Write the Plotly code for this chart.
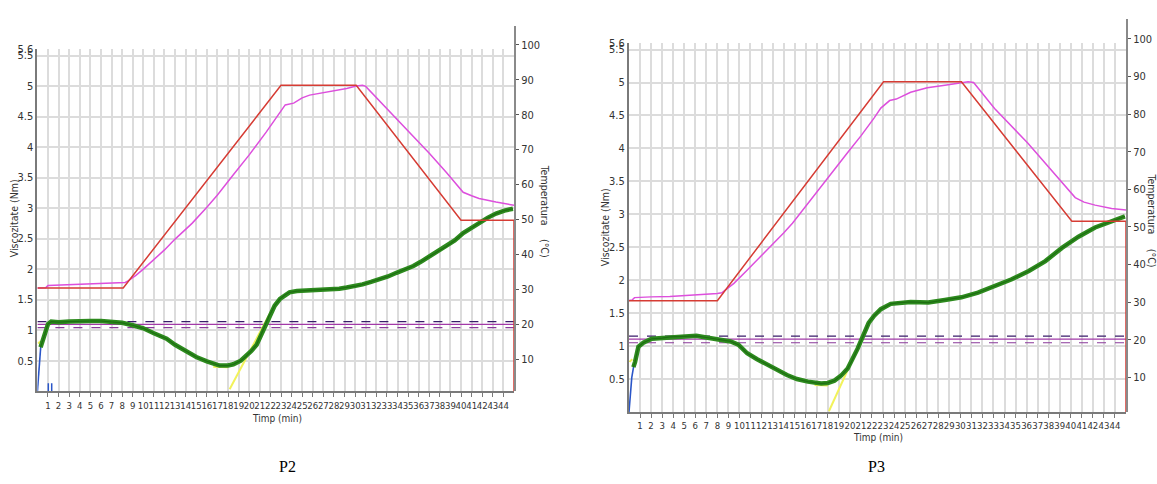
import plotly.graph_objects as go

W, H = 1157, 484

# ---------------- data ----------------
minute_ticks = list(range(1, 45))
visc_ticks = [0.5, 1, 1.5, 2, 2.5, 3, 3.5, 4, 4.5, 5, 5.5, 5.6]
visc_tick_text = ["0.5", "1", "1.5", "2", "2.5", "3", "3.5", "4", "4.5", "5", "5.5", "5.6"]
temp_ticks = [10, 20, 30, 40, 50, 60, 70, 80, 90, 100]

# ---- P2 ----
p2_visc_t = [0.3, 0.5, 0.8, 1.0, 1.3, 2, 3, 4, 5, 6, 7, 8, 9, 10, 11, 12.2, 13, 14.1, 15, 16, 17.2,
             18, 18.5, 19.2, 19.7, 20.2, 20.7, 21.0, 21.3, 21.6, 21.9, 22.4, 22.9, 23.4, 23.8, 24.5,
             25.5, 26.5, 27.6, 28.5, 29.2, 30, 30.7, 31.5, 32.3, 33.1, 33.9, 34.7, 35.5, 36.2, 37,
             37.8, 38.6, 39.4, 40.2, 41, 41.8, 42.5, 43.3, 44.1, 44.9]
p2_visc_v = [0.72, 0.82, 1.0, 1.1, 1.14, 1.13, 1.14, 1.15, 1.15, 1.15, 1.13, 1.12, 1.08, 1.03, 0.95,
             0.86, 0.76, 0.65, 0.56, 0.49, 0.42, 0.42, 0.44, 0.5, 0.57, 0.66, 0.76, 0.88, 1.0, 1.12,
             1.24, 1.4, 1.51, 1.58, 1.62, 1.64, 1.65, 1.65, 1.66, 1.68, 1.70, 1.72, 1.75, 1.79, 1.83,
             1.88, 1.94, 1.99, 2.05, 2.12, 2.21, 2.29, 2.37, 2.47, 2.59, 2.68, 2.76, 2.84, 2.91, 2.96,
             2.99]
p2_start_t = [0, 0.15, 0.32]
p2_start_v = [0, 0.38, 0.74]
p2_spike_t = [1.03, 1.03, None, 1.35, 1.35]
p2_spike_v = [0, 0.13, None, 0, 0.13]
p2_tangent_t = [18.15, 22.5]
p2_tangent_v = [0.03, 1.45]
p2_fitmin_t = [16.6, 18.0]
p2_fitmin_v = [0.40, 0.39]
p2_fitstart_t = [0.05, 0.3]
p2_fitstart_v = [0.78, 0.82]
p2_ref_levels = [1.14, 1.095, 1.04]
p2_set_t = [0, 8.1, 23.0, 30.1, 40.0, 45, 45]
p2_set_v = [30.4, 30.4, 88.4, 88.4, 49.8, 49.8, 0]
p2_temp_t = [0, 0.8, 1.0, 2, 4, 6, 8.3, 8.6, 9.3, 10, 11, 12, 13, 13.6, 14.6, 16, 17, 18.5, 20, 21.6,
             22.9, 23.4, 24.2, 25, 25.7, 26.5, 27.6, 28.5, 29.2, 30.1, 30.7, 31.0, 33, 35.5, 37, 38.6,
             39.6, 40.2, 41, 41.7, 43.3, 45]
p2_temp_v = [30.4, 30.5, 31.1, 31.2, 31.4, 31.7, 32.0, 32.5, 34, 35.8, 38.5, 41.3, 44.4, 46.1, 48.9,
             53.5, 57, 62.8, 68.5, 75.0, 80.8, 82.8, 83.3, 84.8, 85.6, 86.0, 86.5, 87.0, 87.5, 88.2,
             88.4, 88.1, 81.8, 74, 69, 63.5, 59.8, 57.8, 56.8, 56, 55, 54.1]

# ---- P3 ----
p3_visc_t = [0.4, 0.55, 0.85, 1.3, 2.06, 3, 3.7, 5.2, 6.1, 7, 7.7, 8.5, 9.2, 9.9, 10.7, 11.6, 12.5,
             13.4, 14.3, 15.2, 16.2, 17.4, 18.0, 18.6, 19.2, 19.8, 20.2, 20.7, 21.0, 21.3, 21.7, 22.2,
             22.8, 23.7, 24.5, 25.5, 26.3, 27.1, 28.6, 30.1, 31.6, 33.1, 34.6, 36.2, 37.7, 39.2, 40.7,
             42.2, 43.7, 44.9]
p3_visc_v = [0.68, 0.76, 0.99, 1.05, 1.11, 1.12, 1.14, 1.155, 1.155, 1.13, 1.11, 1.09, 1.07, 1.02,
             0.89, 0.8, 0.72, 0.64, 0.56, 0.5, 0.46, 0.43, 0.44, 0.475, 0.55, 0.66, 0.78, 0.96, 1.08,
             1.21, 1.35, 1.46, 1.56, 1.64, 1.66, 1.67, 1.665, 1.66, 1.70, 1.74, 1.81, 1.91, 2.01, 2.14,
             2.29, 2.49, 2.66, 2.80, 2.90, 2.97]
p3_start_t = [0, 0.12, 0.25, 0.45]
p3_start_v = [0, 0.3, 0.52, 0.72]
p3_tangent_t = [18.1, 20.6]
p3_tangent_v = [0.01, 0.93]
p3_fitmin_t = [16.8, 18.0]
p3_fitmin_v = [0.41, 0.40]
p3_fitstart_t = [0.05, 0.3]
p3_fitstart_v = [0.76, 0.80]
p3_ref_levels = [1.15, 1.105, 1.05]
p3_set_t = [0, 8.0, 23.05, 30.1, 40.1, 45, 45]
p3_set_v = [30.4, 30.4, 88.6, 88.6, 51.5, 51.5, 0]
p3_temp_t = [0, 0.3, 0.5, 1, 2, 3.7, 6.1, 8.0, 8.4, 9.5, 10.6, 12, 13, 14, 14.8, 16.7, 18, 19.8, 21,
             22.2, 22.8, 23.6, 24.2, 25.5, 27, 28.6, 30.1, 30.7, 31.2, 33.1, 36.1, 39.2, 40.4, 41.2,
             42.2, 43.7, 45]
p3_temp_v = [30.4, 30.6, 31.2, 31.3, 31.4, 31.5, 31.9, 32.3, 32.5, 35, 38.2, 42.3, 45.3, 48.4, 51,
             58.3, 63, 69.8, 74.2, 79, 81.6, 83.6, 84, 85.8, 87, 87.7, 88.2, 88.6, 88.4, 81.5, 72.3,
             61.8, 57.8, 56.6, 55.8, 54.9, 54.5]

# ---------------- styling / layout ----------------
GREEN = "#2d8a1e"
RED = "#d63c34"
MAGENTA = "#dd4fdd"
YELLOW = "#f2f25a"
BLUE = "#2a56c8"
GRID = "#dcdcdc"
AX = "#7a7a7a"
FONT = "Liberation Sans Narrow, DejaVu Sans Condensed, Liberation Sans, Arial"


def pxx(p):
    return p / W


def pxy(p):
    return (H - p) / H


fig = go.Figure()

panels = [
    dict(ax=("x", "y"), tax=("x2", "y2"), vt=p2_visc_t, vv=p2_visc_v, st=p2_start_t, sv=p2_start_v,
         tt=p2_tangent_t, tv=p2_tangent_v, mt=p2_fitmin_t, mv=p2_fitmin_v, ft=p2_fitstart_t,
         fv=p2_fitstart_v, refs=p2_ref_levels, set_t=p2_set_t, set_v=p2_set_v, temp_t=p2_temp_t,
         temp_v=p2_temp_v),
    dict(ax=("x3", "y3"), tax=("x4", "y4"), vt=p3_visc_t, vv=p3_visc_v, st=p3_start_t, sv=p3_start_v,
         tt=p3_tangent_t, tv=p3_tangent_v, mt=p3_fitmin_t, mv=p3_fitmin_v, ft=p3_fitstart_t,
         fv=p3_fitstart_v, refs=p3_ref_levels, set_t=p3_set_t, set_v=p3_set_v, temp_t=p3_temp_t,
         temp_v=p3_temp_v),
]

for i, p in enumerate(panels):
    xa, ya = p["ax"]
    txa, tya = p["tax"]
    ref_styles = [("#3a1c6a", "dash", 1.2), ("#a23aa8", "solid", 1.2), ("#8a3a9a", "dash", 1.2)]
    for lvl, (c, d, w) in zip(p["refs"], ref_styles):
        fig.add_trace(go.Scatter(x=[0, 45], y=[lvl, lvl], mode="lines", xaxis=xa, yaxis=ya,
                                 line=dict(color=c, dash=d, width=w), showlegend=False))
    for t, v in [(p["tt"], p["tv"]), (p["mt"], p["mv"]), (p["ft"], p["fv"])]:
        fig.add_trace(go.Scatter(x=t, y=v, mode="lines", xaxis=xa, yaxis=ya,
                                 line=dict(color=YELLOW, width=2), showlegend=False))
    fig.add_trace(go.Scatter(x=p["st"], y=p["sv"], mode="lines", xaxis=xa, yaxis=ya,
                             line=dict(color=BLUE, width=1.6), showlegend=False))
    if i == 0:
        fig.add_trace(go.Scatter(x=p2_spike_t, y=p2_spike_v, mode="lines", xaxis=xa, yaxis=ya,
                                 line=dict(color=BLUE, width=1.5), showlegend=False,
                                 connectgaps=False))
    fig.add_trace(go.Scatter(x=p["vt"], y=p["vv"], mode="lines", xaxis=xa, yaxis=ya,
                             line=dict(color=GREEN, width=4.5), showlegend=False))
    fig.add_trace(go.Scatter(x=p["vt"], y=p["vv"], mode="lines", xaxis=xa, yaxis=ya,
                             line=dict(color="#1e6e12", width=1.2), showlegend=False))
    fig.add_trace(go.Scatter(x=p["temp_t"], y=p["temp_v"], mode="lines", xaxis=txa, yaxis=tya,
                             line=dict(color=MAGENTA, width=1.5), showlegend=False))
    fig.add_trace(go.Scatter(x=p["set_t"], y=p["set_v"], mode="lines", xaxis=txa, yaxis=tya,
                             line=dict(color=RED, width=1.5), showlegend=False))

geo = [
    dict(l=37.4, r=514.0, b=390.0, t=44.0, ttop=20.0, t_per=3.538, t0=393.1),
    dict(l=629.0, r=1126.0, b=411.0, t=37.5, ttop=13.3, t_per=3.808, t0=414.1),
]

layout = dict(width=W, height=H, margin=dict(l=0, r=0, t=0, b=0), autosize=False,
              paper_bgcolor="white", plot_bgcolor="rgba(0,0,0,0)", showlegend=False,
              font=dict(family=FONT, color="#333333", size=10))

names = [("xaxis", "yaxis", "xaxis2", "yaxis2", "x", "y", "x2", "y2"),
         ("xaxis3", "yaxis3", "xaxis4", "yaxis4", "x3", "y3", "x4", "y4")]

for g, (xn, yn, txn, tyn, xs, ys, txs, tys) in zip(geo, names):
    xdom = [pxx(g["l"]), pxx(g["r"])]
    layout[xn] = dict(domain=xdom, range=[0, 45], anchor=ys, tickmode="array",
                      tickvals=minute_ticks, ticktext=[str(m) for m in minute_ticks],
                      ticks="outside", ticklen=4, tickcolor=AX, tickwidth=1, tickangle=0,
                      showline=True, linecolor=AX, linewidth=2, showgrid=True,
                      gridcolor=GRID, gridwidth=1.5, zeroline=False,
                      tickfont=dict(size=9.5, color="#333"), fixedrange=True)
    layout[yn] = dict(domain=[pxy(g["b"]), pxy(g["t"])], range=[0, 5.6], anchor=xs,
                      tickmode="array", tickvals=visc_ticks, ticktext=visc_tick_text,
                      ticks="", showline=True, linecolor=AX, linewidth=2, showgrid=True,
                      gridcolor=GRID, gridwidth=1.5, zeroline=False,
                      tickfont=dict(size=11, color="#333"), fixedrange=True)
    tb = (g["t0"] - g["b"]) / g["t_per"]
    tt = (g["t0"] - g["ttop"]) / g["t_per"]
    layout[txn] = dict(domain=xdom, range=[0, 45], anchor=tys, visible=False, fixedrange=True)
    layout[tyn] = dict(domain=[pxy(g["b"]), pxy(g["ttop"])], range=[tb, tt], anchor=txs,
                       side="right", tickmode="array", tickvals=temp_ticks,
                       ticks="outside", ticklen=3, tickcolor="#555", showline=True,
                       linecolor="#8a8a8a", linewidth=2, showgrid=False, zeroline=False,
                       tickfont=dict(size=11, color="#333"), fixedrange=True)

annos = []
title_specs = [
    ("Viscozitate (Nm)", 14, 215, -90), ("Timp (min)", 277, 418, 0),
    ("Temperatura", 545, 191, 90), ("(°C)", 545, 245, 90),
    ("Viscozitate (Nm)", 605, 224, -90), ("Timp (min)", 878, 437, 0),
    ("Temperatura", 1152, 200, 90), ("(°C)", 1152, 255, 90),
]
for txt, x, y, ang in title_specs:
    annos.append(dict(text=txt, x=pxx(x), y=pxy(y), xref="paper", yref="paper",
                      showarrow=False, textangle=ang, xanchor="center", yanchor="middle",
                      font=dict(size=10.5 if ang else 10, color="#333", family=FONT)))
for txt, x in [("P2", 287), ("P3", 876)]:
    annos.append(dict(text=txt, x=pxx(x), y=pxy(466), xref="paper", yref="paper",
                      showarrow=False, xanchor="center", yanchor="middle",
                      font=dict(size=16, color="#000", family="Liberation Serif, Times New Roman")))
layout["annotations"] = annos

fig.update_layout(**layout)
fig.write_html("out.html")
